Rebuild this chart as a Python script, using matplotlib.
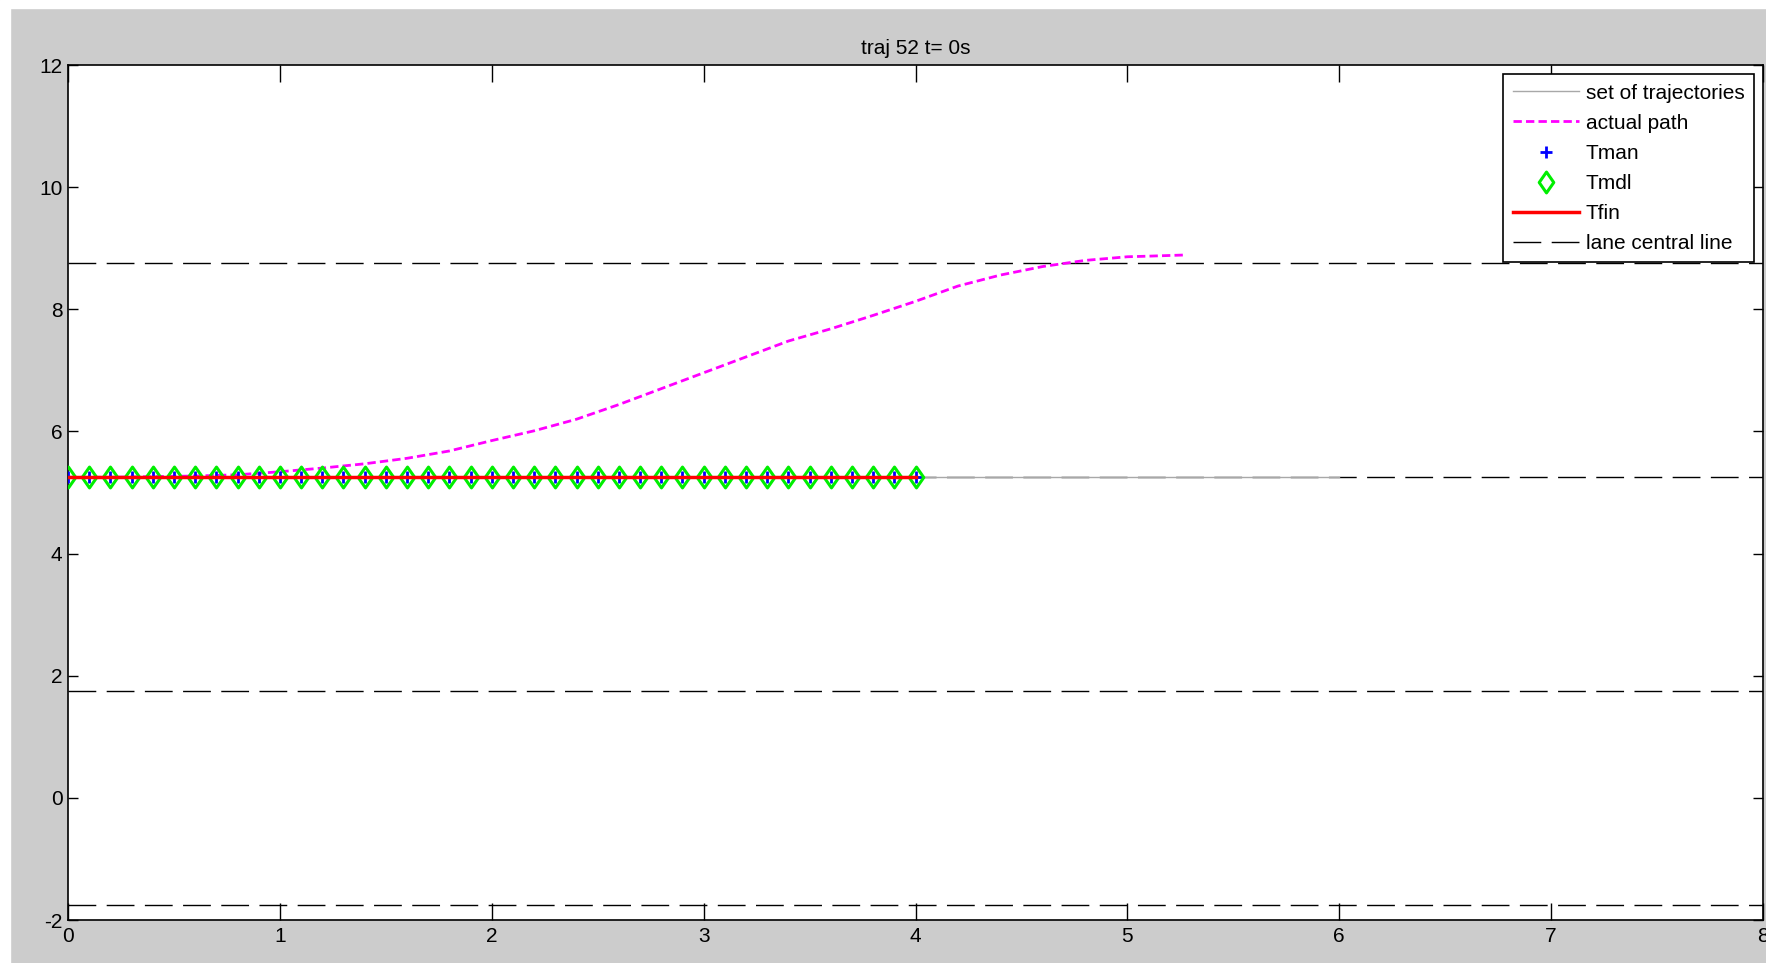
import matplotlib
matplotlib.use('Agg')
import matplotlib.pyplot as plt
from matplotlib.patches import Rectangle
from matplotlib.path import Path
import numpy as np

plt.rcParams['font.family'] = ['Liberation Sans', 'DejaVu Sans']
plt.rcParams['lines.scale_dashes'] = False
plt.rcParams['axes.unicode_minus'] = False

# candidate trajectory sample times and lateral position
t_samples = np.round(np.arange(0, 4.01, 0.1), 2)
y_traj = 5.25
traj_set_x = [0, 6]

# recorded vehicle path
path_x = [0, 0.2, 0.4, 0.6, 0.8, 1.0, 1.2, 1.4, 1.6, 1.8, 2.0, 2.2, 2.4, 2.6,
          2.8, 3.0, 3.2, 3.4, 3.6, 3.8, 4.0, 4.2, 4.4, 4.6, 4.8, 5.0, 5.1, 5.28]
path_y = [5.25, 5.25, 5.26, 5.27, 5.29, 5.34, 5.40, 5.47, 5.56, 5.68, 5.85,
          6.01, 6.20, 6.44, 6.70, 6.96, 7.22, 7.48, 7.68, 7.90, 8.13, 8.38,
          8.56, 8.70, 8.80, 8.86, 8.87, 8.89]

lane_centres = [-1.75, 1.75, 5.25, 8.75]
title = 'traj 52 t= 0s'

# diamond a bit wider than matplotlib's thin 'd'
diamond = Path([(0, 1), (0.7, 0), (0, -1), (-0.7, 0), (0, 1)],
               [Path.MOVETO, Path.LINETO, Path.LINETO, Path.LINETO, Path.CLOSEPOLY])

fig = plt.figure(figsize=(17.66, 9.63), dpi=100, facecolor='#cccccc')
ax = fig.add_axes([68 / 1766, 1 - 920 / 963, (1763 - 68) / 1766, (920 - 65) / 963])

ax.plot(traj_set_x, [y_traj] * 2, color='#a8a8a8', lw=1.0, zorder=3,
        label='set of trajectories')
ax.plot(path_x, path_y, color='magenta', lw=2, ls=(0, (6, 3)), zorder=4,
        label='actual path')
ax.plot(t_samples, np.full(len(t_samples), y_traj), ls='none', marker='+',
        color='blue', ms=9, mew=2, zorder=5, label='Tman')
ax.plot(t_samples, np.full(len(t_samples), y_traj), ls='none', marker=diamond,
        mfc='none', mec='#00ee00', ms=15, mew=2.2, zorder=6, label='Tmdl')
ax.plot([t_samples[0], t_samples[-1]], [y_traj] * 2, color='red', lw=2.5,
        zorder=7, label='Tfin')
for i, yc in enumerate(lane_centres):
    ax.plot([0, 8], [yc, yc], color='black', lw=1, ls=(0, (20, 7.5)), zorder=2,
            label='lane central line' if i == 0 else None)

ax.set_xlim(0, 8)
ax.set_ylim(-2, 12)
ax.set_xticks(range(0, 9))
ax.set_yticks(range(-2, 13, 2))
ax.tick_params(axis='x', direction='in', length=12, width=1, top=True,
               labelsize=15, pad=5)
ax.tick_params(axis='y', direction='in', length=7.5, width=1, right=True,
               labelsize=15, pad=4)
for s in ax.spines.values():
    s.set_linewidth(1.2)
ax.set_title(title, fontsize=15, pad=8)

leg = ax.legend(loc='upper right', fontsize=15, frameon=True, fancybox=False,
                framealpha=1, edgecolor='black', handlelength=3.2,
                borderaxespad=0.45, labelspacing=0.53, handletextpad=0.3,
                borderpad=0.45, numpoints=1)
leg.get_frame().set_linewidth(1.2)

# white strips along the top and left edges of the window capture
fig.add_artist(Rectangle((0, 1 - 8 / 963), 1, 8 / 963, transform=fig.transFigure,
                         color='white', zorder=0))
fig.add_artist(Rectangle((0, 0), 10 / 1766, 1, transform=fig.transFigure,
                         color='white', zorder=0))

fig.savefig('out.png', dpi=100, facecolor=fig.get_facecolor())
